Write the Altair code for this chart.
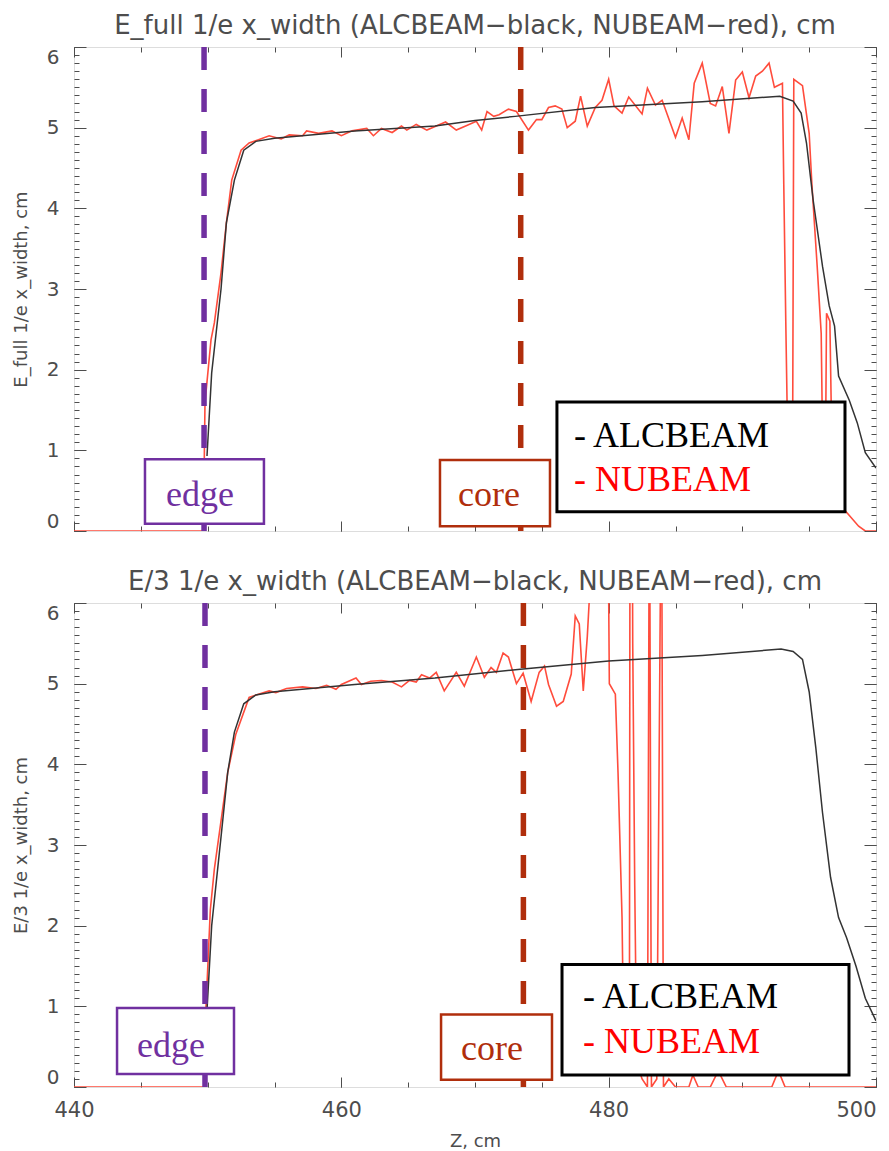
import altair as alt
import pandas as pd

# ---------------- data ----------------
# Top panel: E_full 1/e x_width
top_red_z = [440.0, 449.7, 449.75, 449.8, 450.25, 450.5, 451.0, 451.4, 451.8, 452.5, 453.1, 453.8,
             454.6, 455.5, 456.1, 457.1, 457.4, 458.3, 459.3, 460.0, 460.8, 461.9, 462.4, 463.0,
             463.8, 464.5, 464.9, 465.6, 466.4, 467.1, 467.8, 468.6, 469.3, 470.1, 470.5, 470.9,
             471.4, 471.8, 472.5, 473.1, 474.0, 474.6, 475.0, 475.5, 476.0, 476.5, 476.9, 477.5,
             477.9, 478.4, 479.0, 479.5, 480.0, 480.4, 481.0, 481.5, 482.5, 482.9, 483.5, 484.0,
             485.0, 485.5, 486.0, 486.4, 487.0, 487.6, 488.0, 488.5, 489.0, 489.5, 490.0, 490.5,
             491.0, 491.5, 492.0, 492.4, 493.0, 493.1, 493.25, 493.45, 493.75, 493.85, 494.5,
             495.0, 495.2, 495.6, 495.9, 496.05, 496.2, 496.3, 496.55, 496.75, 497.7, 498.7,
             499.2, 500.0]
top_red_w = [0.0, 0.0, 0.93, 1.59, 2.37, 2.58, 3.2, 3.82, 4.35, 4.72, 4.81, 4.85,
             4.9, 4.86, 4.91, 4.9, 4.96, 4.93, 4.96, 4.9, 4.96, 4.99, 4.9, 4.99,
             4.94, 5.02, 4.97, 5.04, 4.97, 5.02, 5.07, 4.97, 5.02, 5.08, 4.97, 5.2,
             5.14, 5.16, 5.23, 5.2, 4.97, 5.1, 5.1, 5.25, 5.27, 5.23, 5.0, 5.08,
             5.39, 5.02, 5.25, 5.34, 5.6, 5.27, 5.18, 5.38, 5.17, 5.49, 5.28, 5.34,
             4.88, 5.12, 4.85, 5.55, 5.8, 5.3, 5.27, 5.51, 4.93, 5.59, 5.69, 5.37,
             5.64, 5.7, 5.8, 5.5, 5.55, 4.3, 2.6, 0.5, 0.5, 5.6, 5.52,
             4.93, 4.31, 3.28, 2.45, 0.5, 0.5, 2.7, 2.6, 0.5, 0.25, 0.06,
             0.0, 0.0]
top_black_z = [449.95, 450.3, 451.0, 451.4, 452.0, 452.7, 453.6, 455.0, 461.0, 467.0, 470.0,
               473.0, 479.0, 487.0, 492.8, 493.8, 494.4, 494.8, 495.3, 496.0, 496.5, 496.9,
               497.2, 498.0, 498.6, 499.2, 500.0]
top_black_w = [0.93, 1.96, 3.0, 3.82, 4.35, 4.72, 4.83, 4.87, 4.96, 5.02, 5.09,
               5.14, 5.25, 5.32, 5.39, 5.33, 5.18, 4.81, 4.10, 3.28, 2.79, 2.54,
               1.92, 1.62, 1.34, 0.97, 0.78]

# Bottom panel: E/3 1/e x_width
bot_red_z = [440.0, 449.8, 449.85, 450.2, 450.5, 451.0, 451.5, 452.1, 453.1, 453.8, 454.6, 455.1,
             455.9, 457.1, 458.1, 458.9, 459.6, 460.0, 461.1, 461.5, 462.2, 463.0, 463.8, 464.5,
             465.1, 465.6, 466.0, 466.6, 467.1, 467.7, 468.6, 469.2, 470.1, 470.7, 471.2, 471.6,
             472.1, 472.5, 473.1, 473.6, 474.2, 474.8, 475.2, 475.5, 476.1, 476.6, 477.2, 477.5,
             477.8, 478.1, 478.4, 478.8, 479.9, 480.0, 480.05, 480.5, 480.7, 480.9, 481.0, 481.15,
             481.55, 481.6, 481.75, 481.8, 481.95, 482.1, 482.5, 482.9, 483.05, 483.2, 483.6,
             483.95, 484.1, 484.5, 485.0, 486.0, 486.3, 486.7, 487.6, 488.2, 488.8, 492.2, 492.7,
             493.2, 500.0]
bot_red_w = [0.0, 0.0, 0.9, 2.2, 2.7, 3.3, 3.9, 4.37, 4.83, 4.87, 4.91, 4.89,
             4.94, 4.96, 4.94, 4.98, 4.93, 4.99, 5.07, 4.99, 5.03, 5.04, 5.02, 4.96,
             5.04, 5.02, 5.11, 5.07, 5.14, 4.91, 5.14, 4.97, 5.33, 5.08, 5.2, 5.14,
             5.38, 5.33, 5.0, 5.13, 4.78, 5.14, 5.22, 4.99, 4.72, 4.78, 5.12, 5.84,
             5.74, 4.91, 5.58, 6.8, 6.8, 6.1, 5.0, 4.87, 3.9, 2.7, 2.1, 0.2,
             0.2, 8.0, 8.0, 5.5, 2.5, 0.3, 0.1, 0.0, 8.0, 0.0, 0.1,
             8.0, 0.0, 0.1, 0.0, 0.0, 0.15, 0.0, 0.0, 0.2, 0.0, 0.0, 0.2,
             0.0, 0.0]
bot_black_z = [449.95, 450.3, 451.0, 451.5, 452.0, 452.7, 453.6, 455.0, 461.0, 467.0, 473.4,
               480.0, 487.0, 492.9, 493.8, 494.5, 495.0, 495.5, 496.0, 496.6, 497.2, 497.8,
               498.5, 499.2, 500.0]
bot_black_w = [0.95, 2.0, 3.1, 3.9, 4.4, 4.75, 4.86, 4.9, 4.99, 5.07, 5.18,
               5.28, 5.35, 5.43, 5.40, 5.30, 4.9, 4.2, 3.4, 2.6, 2.1, 1.85,
               1.5, 1.1, 0.82]

edge_z = [449.73, 449.80]
core_z = [473.42, 473.62]

titles = ["E_full 1/e x_width (ALCBEAM\u2212black, NUBEAM\u2212red), cm",
          "E/3 1/e x_width (ALCBEAM\u2212black, NUBEAM\u2212red), cm"]
ytitles = ["E_full 1/e x_width, cm", "E/3 1/e x_width, cm"]
xtitle = "Z, cm"
x_major = [440, 460, 480, 500]
x_minor = [440, 445, 450, 455, 460, 465, 470, 475, 480, 485, 490, 495, 500]
y_major = [0, 1, 2, 3, 4, 5, 6]
y_minor = [round(i * 0.1, 1) for i in range(61)]

# annotation boxes (data coords): x0, x1, y0, y1 and text anchors
edge_box = [(445.31, 454.21, 0.09, 0.89), (443.22, 451.97, 0.16, 0.98)]
edge_txt = [(449.43, 0.45), (447.26, 0.51)]
core_box = [(467.38, 475.61, 0.06, 0.88), (467.46, 475.76, 0.09, 0.90)]
core_txt = [(471.05, 0.45), (471.27, 0.47)]
leg_box = [(476.13, 497.68, 0.24, 1.60), (476.51, 497.98, 0.15, 1.52)]
leg_txt = [(477.41, 1.18, 0.63), (478.08, 1.12, 0.56)]

# ---------------- style ----------------
GRAY = "#4d4d4d"
FONT = "DejaVu Sans"
SERIF = "Liberation Serif"
RED = "#ff4c3c"
PURPLE = "#7030a0"
CORE = "#b02e0c"

xs = alt.Scale(domain=[440, 500], nice=False, zero=False)
ys = alt.Scale(domain=[0, 6], nice=False, zero=False)


def xaxis(orient, major, show_labels):
    size = 10 if major else 5
    kw = dict(orient=orient, values=x_major if major else x_minor, tickSize=size,
              offset=-size, domain=False, grid=False, tickColor=GRAY, tickWidth=1,
              labels=show_labels, title=None, minExtent=0, maxExtent=200)
    if show_labels:
        kw.update(labelFont=FONT, labelFontSize=21, labelColor=GRAY, labelPadding=12,
                  labelFlush=False,
                  labelAlign=alt.condition("datum.value >= 500", alt.value("right"),
                                           alt.value("center")),
                  title=xtitle, titleFont=FONT, titleFontSize=18,
                  titleColor=GRAY, titleFontWeight="normal", titlePadding=12)
    return alt.Axis(**kw)


def yaxis(orient, major, show_labels, title=None):
    size = 12 if major else 5
    kw = dict(orient=orient, values=y_major if major else y_minor, tickSize=size,
              offset=-size, domain=False, grid=False, tickColor=GRAY, tickWidth=1,
              labels=show_labels, title=None, minExtent=0, maxExtent=200)
    if show_labels:
        kw.update(labelFont=FONT, labelFontSize=20, labelColor=GRAY, labelPadding=15,
                  labelFlush=True, title=title, titleFont=FONT, titleFontSize=18,
                  titleColor=GRAY, titleFontWeight="normal", titlePadding=16)
    return alt.Axis(**kw)


def panel(i, red_z, red_w, black_z, black_w):
    bottom = i == 1
    red_df = pd.DataFrame({"z": red_z, "w": red_w})
    blk_df = pd.DataFrame({"z": black_z, "w": black_w})

    red = alt.Chart(red_df).mark_line(color=RED, strokeWidth=1.6, clip=True).encode(
        x=alt.X("z:Q", scale=xs, axis=xaxis("bottom", True, bottom)),
        y=alt.Y("w:Q", scale=ys, axis=yaxis("left", True, True, ytitles[i])),
        order="z:Q",
    )
    blk = alt.Chart(blk_df).mark_line(color="#333333", strokeWidth=1.5, clip=True).encode(
        x=alt.X("z:Q", scale=xs, axis=xaxis("top", True, False)),
        y=alt.Y("w:Q", scale=ys, axis=yaxis("right", True, False)),
        order="z:Q",
    )
    edge_rule = alt.Chart(pd.DataFrame({"z": [edge_z[i]]})).mark_rule(
        color=PURPLE, strokeWidth=5.5, strokeDash=[23, 19]).encode(
        x=alt.X("z:Q", scale=xs, axis=None))
    core_rule = alt.Chart(pd.DataFrame({"z": [core_z[i]]})).mark_rule(
        color=CORE, strokeWidth=5.5, strokeDash=[23, 19]).encode(
        x=alt.X("z:Q", scale=xs, axis=None))

    def box(b, color, sw, xa, ya):
        df = pd.DataFrame({"x0": [b[0]], "x1": [b[1]], "y0": [b[2]], "y1": [b[3]]})
        return alt.Chart(df).mark_rect(fill="white", stroke=color, strokeWidth=sw).encode(
            x=alt.X("x0:Q", scale=xs, axis=xa), x2="x1:Q",
            y=alt.Y("y0:Q", scale=ys, axis=ya), y2="y1:Q")

    def text(x, y, s, color, align="center"):
        df = pd.DataFrame({"x": [x], "y": [y], "t": [s]})
        return alt.Chart(df).mark_text(font=SERIF, fontSize=36, color=color, align=align,
                                       baseline="middle").encode(
            x=alt.X("x:Q", scale=xs, axis=None), y=alt.Y("y:Q", scale=ys, axis=None),
            text="t:N")

    eb = box(edge_box[i], PURPLE, 2.5, xaxis("bottom", False, False), yaxis("left", False, False))
    cb = box(core_box[i], CORE, 2.5, xaxis("top", False, False), yaxis("right", False, False))
    lb = box(leg_box[i], "black", 3, None, None)
    et = text(edge_txt[i][0], edge_txt[i][1], "edge", PURPLE)
    ct = text(core_txt[i][0], core_txt[i][1], "core", CORE)
    l1 = text(leg_txt[i][0], leg_txt[i][1], "- ALCBEAM", "black", "left")
    l2 = text(leg_txt[i][0], leg_txt[i][2], "- NUBEAM", "#ff0000", "left")

    return alt.layer(red, blk, edge_rule, core_rule, eb, cb, lb, et, ct, l1, l2).resolve_axis(
        x="independent", y="independent").properties(
        width=802, height=484,
        title=alt.Title(titles[i], font=FONT, fontSize=26, fontWeight="normal", color=GRAY,
                        offset=5))


top = panel(0, top_red_z, top_red_w, top_black_z, top_black_w)
bot = panel(1, bot_red_z, bot_red_w, bot_black_z, bot_black_w)

chart = alt.vconcat(top, bot, spacing=33).properties(
    padding={"left": 3, "top": 4, "right": 0, "bottom": 0}
).configure_view(stroke=GRAY, strokeWidth=1.5).configure(background="white")

chart.save("out.html", embed_options={"renderer": "svg", "actions": False})
